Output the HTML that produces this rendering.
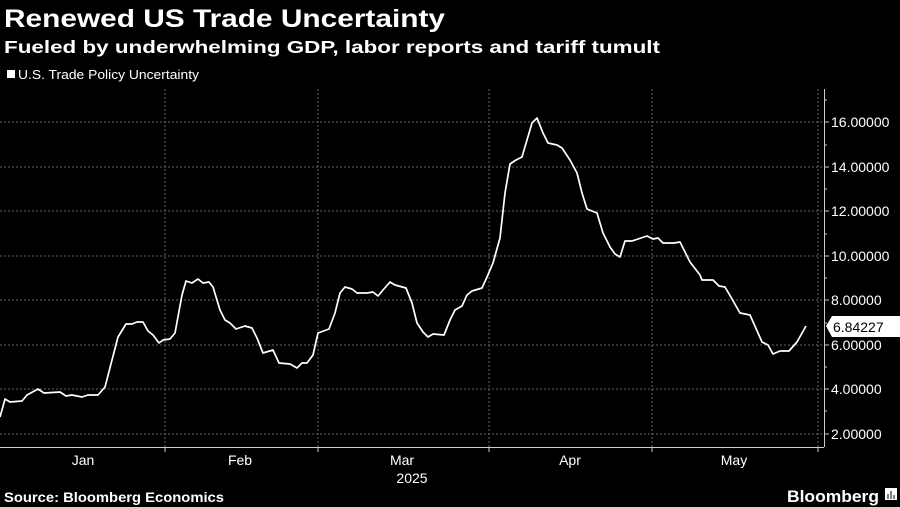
<!DOCTYPE html>
<html><head><meta charset="utf-8"><style>
body{margin:0;background:#000;width:900px;height:507px;overflow:hidden;font-family:"Liberation Sans",sans-serif;color:#fff}
</style></head><body>
<svg width="900" height="507" xmlns="http://www.w3.org/2000/svg" style="position:absolute;left:0;top:0">
<text x="4" y="27" font-size="25" font-weight="bold" fill="#fff" textLength="441" lengthAdjust="spacingAndGlyphs">Renewed US Trade Uncertainty</text>
<text x="4" y="53" font-size="17.5" font-weight="bold" fill="#fff" textLength="656" lengthAdjust="spacingAndGlyphs">Fueled by underwhelming GDP, labor reports and tariff tumult</text>
<rect x="7" y="70" width="8" height="8" fill="#fff"/>
<text x="18" y="79" font-size="12.5" fill="#fff" textLength="181" lengthAdjust="spacingAndGlyphs">U.S. Trade Policy Uncertainty</text>
<g stroke="#666" stroke-width="1" stroke-dasharray="2,2">
<line x1="0" x2="824" y1="122" y2="122"/><line x1="0" x2="824" y1="167" y2="167"/>
<line x1="0" x2="824" y1="211" y2="211"/><line x1="0" x2="824" y1="256" y2="256"/>
<line x1="0" x2="824" y1="300" y2="300"/><line x1="0" x2="824" y1="345" y2="345"/>
<line x1="0" x2="824" y1="389" y2="389"/><line x1="0" x2="824" y1="434" y2="434"/>
<line x1="165" x2="165" y1="89" y2="447"/><line x1="318" x2="318" y1="89" y2="447"/>
<line x1="489" x2="489" y1="89" y2="447"/><line x1="652" x2="652" y1="89" y2="447"/>
<line x1="818" x2="818" y1="89" y2="447"/>
</g>
<g stroke="#ccc" stroke-width="1">
<line x1="0" x2="824" y1="447.5" y2="447.5"/>
<line x1="824.5" x2="824.5" y1="89" y2="447"/>
<line x1="165" x2="165" y1="447" y2="452"/><line x1="318" x2="318" y1="447" y2="452"/>
<line x1="489" x2="489" y1="447" y2="452"/><line x1="652" x2="652" y1="447" y2="452"/><line x1="818" x2="818" y1="447" y2="452"/>
<line x1="824" x2="829" y1="122" y2="122"/><line x1="824" x2="829" y1="167" y2="167"/><line x1="824" x2="829" y1="211" y2="211"/><line x1="824" x2="829" y1="256" y2="256"/><line x1="824" x2="829" y1="300" y2="300"/><line x1="824" x2="829" y1="345" y2="345"/><line x1="824" x2="829" y1="389" y2="389"/><line x1="824" x2="829" y1="434" y2="434"/>
<line x1="824" x2="827" y1="100" y2="100"/><line x1="824" x2="827" y1="145" y2="145"/><line x1="824" x2="827" y1="189" y2="189"/><line x1="824" x2="827" y1="234" y2="234"/><line x1="824" x2="827" y1="278" y2="278"/><line x1="824" x2="827" y1="323" y2="323"/><line x1="824" x2="827" y1="367" y2="367"/><line x1="824" x2="827" y1="411" y2="411"/>
</g>
<g font-size="14" fill="#fff">
<text x="831" y="127">16.00000</text><text x="831" y="172">14.00000</text><text x="831" y="216">12.00000</text><text x="831" y="261">10.00000</text>
<text x="831" y="305">8.00000</text><text x="831" y="350">6.00000</text><text x="831" y="394">4.00000</text><text x="831" y="439">2.00000</text>
</g>
<polygon points="826,326 832,316 900,316 900,337 832,337" fill="#fff"/>
<text x="833" y="332" font-size="14" fill="#000">6.84227</text>
<g font-size="14" fill="#fff" text-anchor="middle">
<text x="83" y="465">Jan</text><text x="240" y="465">Feb</text><text x="402" y="465">Mar</text><text x="412" y="483">2025</text>
<text x="570" y="465">Apr</text><text x="734" y="465">May</text>
</g>
<polyline fill="none" stroke="#fff" stroke-width="1.7" stroke-linejoin="round" points="0,417 5,399 10,402 22,401 27,395 38,389 44,393 60,392 66,396 72,395 82,397 88,395 98,395 105,387 112,360 118,337 126,324 132,324 137,322 143,322 148,331 153,335 159,343 163,340 170,339 175,333 182,295 186,281 192,283 198,279 203,283 209,282 213,287 220,310 225,320 230,323 236,329 245,326 252,328 257,338 263,353 273,350 279,363 290,364 297,368 302,363 307,363 313,355 318,333 329,329 335,313 340,293 345,287 352,289 357,293 367,293 373,292 378,296 383,290 390,282 395,285 406,288 412,303 417,323 423,332 428,337 433,334 444,335 450,320 455,310 462,306 467,295 472,291 482,288 487,277 493,263 500,238 505,193 510,164 516,160 522,157 532,123 537,118 543,133 548,143 557,145 562,148 570,160 577,173 582,193 587,209 597,213 603,233 610,247 615,254 620,257 625,241 632,241 647,236 653,239 658,238 663,243 674,243 680,242 690,262 700,275 702,280 713,280 719,286 725,287 732,299 740,313 750,315 762,342 768,345 773,354 780,351 789,351 797,342 806,326"/>
<text x="4" y="502" font-size="13.5" font-weight="bold" fill="#fff" textLength="220" lengthAdjust="spacingAndGlyphs">Source: Bloomberg Economics</text>
<text x="787" y="502" font-size="17" font-weight="bold" fill="#fff" textLength="92" lengthAdjust="spacingAndGlyphs">Bloomberg</text>
<rect x="885" y="488" width="12" height="12" fill="#fff"/>
<g stroke="#000" stroke-width="1"><line x1="888" x2="888" y1="494" y2="499"/><line x1="891" x2="891" y1="491" y2="499"/><line x1="894" x2="894" y1="495" y2="499"/></g>
</svg>
</body></html>
